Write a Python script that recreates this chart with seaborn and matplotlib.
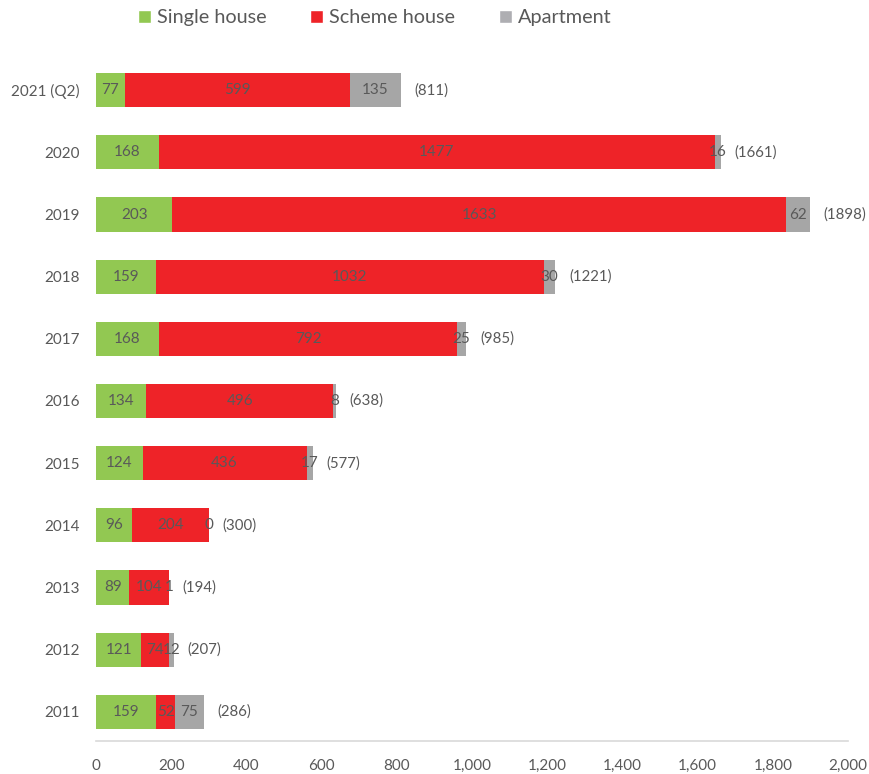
import matplotlib
matplotlib.use("Agg")
import matplotlib.pyplot as plt
from matplotlib.patches import Patch
from matplotlib.ticker import FuncFormatter
import numpy as np
import pandas as pd
import seaborn as sns

# Completions by dwelling type, per year
years = ["2021 (Q2)", "2020", "2019", "2018", "2017", "2016",
         "2015", "2014", "2013", "2012", "2011"]
single_house = [77, 168, 203, 159, 168, 134, 124, 96, 89, 121, 159]
scheme_house = [599, 1477, 1633, 1032, 792, 496, 436, 204, 104, 74, 52]
apartment = [135, 16, 62, 30, 25, 8, 17, 0, 1, 12, 75]
totals = [811, 1661, 1898, 1221, 985, 638, 577, 300, 194, 207, 286]
x_ticks = [0, 200, 400, 600, 800, 1000, 1200, 1400, 1600, 1800, 2000]

GREEN = "#92C852"
RED = "#EE2328"
GREY = "#A6A6A6"
TEXT = "#595959"

sns.set_theme(style="white")
plt.rcParams["font.family"] = ["Lato", "DejaVu Sans"]

df = pd.DataFrame({
    "year": years,
    "single": single_house,
    "scheme": scheme_house,
    "apartment": apartment,
})
df["upto_scheme"] = df["single"] + df["scheme"]
df["upto_apartment"] = df["upto_scheme"] + df["apartment"]

fig = plt.figure(figsize=(8.7, 7.74), dpi=100)
ax = fig.add_axes([96 / 870, 33 / 774, 752 / 870, 680 / 774])

# stacked bars drawn as overlapping cumulative layers
for col, color in [("upto_apartment", GREY), ("upto_scheme", RED), ("single", GREEN)]:
    sns.barplot(data=df, y="year", x=col, order=years, color=color,
                saturation=1, width=0.55, orient="h", ax=ax, linewidth=0)

# segment value labels
for i, row in df.iterrows():
    ax.text(row["single"] / 2, i, f"{row['single']}", ha="center", va="center",
            color=TEXT, fontsize=11, zorder=5)
    ax.text(row["single"] + row["scheme"] / 2, i, f"{row['scheme']}",
            ha="center", va="center", color=TEXT, fontsize=11, zorder=5)
    ax.text(row["upto_scheme"] + row["apartment"] / 2, i, f"{row['apartment']}",
            ha="center", va="center", color=TEXT, fontsize=11, zorder=5)
    ax.annotate(f"({totals[i]})", xy=(row["upto_apartment"], i),
                xytext=(10, 0), textcoords="offset points",
                ha="left", va="center", color=TEXT, fontsize=10.8, zorder=5,
                annotation_clip=False)

ax.set_xlim(0, 2000)
ax.set_ylim(10.47, -0.47)
ax.set_xticks(x_ticks)
ax.xaxis.set_major_formatter(FuncFormatter(lambda v, p: f"{int(v):,}"))
ax.set_xlabel("")
ax.set_ylabel("")
ax.tick_params(axis="x", length=0, pad=13, labelsize=11, labelcolor=TEXT)
ax.tick_params(axis="y", length=0, pad=12, labelsize=11, labelcolor=TEXT)

for side in ["top", "right", "left"]:
    ax.spines[side].set_visible(False)
ax.spines["bottom"].set_color("#D9D9D9")
ax.spines["bottom"].set_linewidth(1.2)

handles = [Patch(facecolor=GREEN, label="Single house"),
           Patch(facecolor=RED, label="Scheme house"),
           Patch(facecolor="#AEAEB2", label="Apartment")]
fig.legend(handles=handles, loc="upper left", bbox_to_anchor=(120 / 870, 1.011),
           ncol=3, frameon=False, fontsize=14.3, labelcolor=TEXT,
           handlelength=0.65, handleheight=0.65, handletextpad=0.3,
           columnspacing=2.2)

fig.savefig("out.png", dpi=100)
